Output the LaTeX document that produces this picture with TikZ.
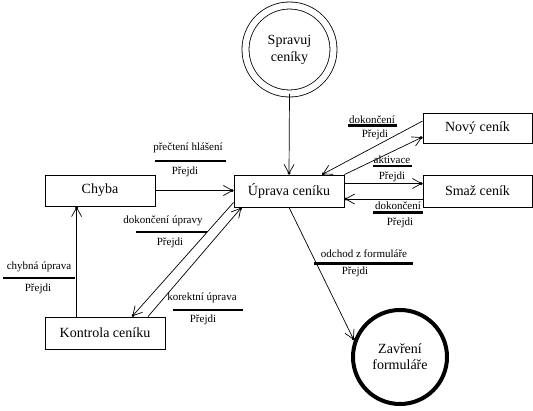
\documentclass[tikz,border=0pt]{standalone}
\usepackage{fontspec}
\setmainfont{Liberation Serif}
\usetikzlibrary{arrows.meta,calc}
\begin{document}
\begin{tikzpicture}[x=1pt,y=-1pt,
  every node/.style={inner sep=0pt},
  box/.style={draw,line width=0.8pt,rectangle,font=\fontsize{14}{16}\selectfont},
  arr/.style={line width=0.7pt,-{Straight Barb[length=9pt,width=10pt,sep=-2.5pt]Circle[length=3pt]}},
  lbl/.style={font=\fontsize{11}{13}\selectfont},
  rule/.style={line width=2.2pt},
]
\useasboundingbox (0,0) rectangle (533,410);
% nodes
\node[box,minimum width=110pt,minimum height=31pt] (chyba) at (100,190.5) {Chyba};
\node[box,minimum width=110pt,minimum height=32pt] (uprava) at (289,191) {Úprava ceníku};
\node[box,minimum width=109pt,minimum height=30pt] (novy) at (477.5,128) {Nový ceník};
\node[box,minimum width=109pt,minimum height=32pt] (smaz) at (477.5,191) {Smaž ceník};
\node[box,minimum width=120pt,minimum height=32pt] (kontrola) at (105,333) {Kontrola ceníku};
\node[circle,draw,line width=0.8pt,double,double distance=6.2pt,minimum size=88pt,
      align=center,font=\fontsize{14}{17}\selectfont] (spravuj) at (289.5,49.5) {Spravuj\\ceníky};
\node[circle,draw,line width=4pt,minimum size=94pt,
      align=center,font=\fontsize{14}{16}\selectfont] (zavreni) at (400,357) {Zavření\\formuláře};
\coordinate (k1) at ($(chyba.south west)+(32,0)$);
% connectors
\draw[arr] (spravuj.south) -- (uprava.north);
\draw[arr] (chyba.east) -- (chyba.east -| uprava.west);
\draw[arr] ($(novy.west)+(0,-7)$) -- ($(uprava.north)+(33,0)$);
\draw[arr] (uprava.north east) -- ($(novy.west)+(0,9)$);
\draw[arr] ($(uprava.east)+(0,-7.5)$) -- ($(smaz.west)+(0,-7.5)$);
\draw[arr] ($(smaz.west)+(0,8)$) -- ($(uprava.east)+(0,8)$);
\draw[arr] ($(uprava.south west)+(0,-5)$) -- ($(kontrola.north)+(27,0)$);
\draw[arr] ($(kontrola.north)+(43,0)$) -- ($(uprava.south west)+(8,0)$);
\draw[arr] (kontrola.north -| k1) -- (k1);
\draw[arr] (uprava.south) -- (zavreni.160);
% labels
\node[lbl] (l1) at (188,148) {přečtení hlášení};
\draw[rule] (155,160.7) -- (226,160.7);
\node[lbl] (l1p) at (185,172) {Přejdi};

\node[lbl] (l2) at (372,120) {dokončení};
\draw[rule] (348,125.5) -- (397,125.5);
\node[lbl] (l2p) at (375,135) {Přejdi};

\node[lbl] (l3) at (392,160) {aktivace};
\draw[rule] (373,166) -- (412,166);
\node[lbl] (l3p) at (392,177) {Přejdi};

\node[lbl] (l4) at (398,206) {dokončení};
\draw[rule] (373,212.5) -- (423,212.5);
\node[lbl] (l4p) at (400,223) {Přejdi};

\node[lbl] (l5) at (163,221) {dokončení úpravy};
\draw[rule] (136,232) -- (207,232);
\node[lbl] (l5p) at (170,243) {Přejdi};

\node[lbl] (l6) at (202,298) {korektní úprava};
\draw[rule] (173,310) -- (243,310);
\node[lbl] (l6p) at (203,320) {Přejdi};

\node[lbl] (l7) at (39,267) {chybná úprava};
\draw[rule] (3,278) -- (75,278);
\node[lbl] (l7p) at (38,289) {Přejdi};

\node[lbl] (l8) at (364,254) {odchod z formuláře};
\draw[rule] (314,263.5) -- (413,263.5);
\node[lbl] (l8p) at (355,272) {Přejdi};
\end{tikzpicture}
\end{document}
